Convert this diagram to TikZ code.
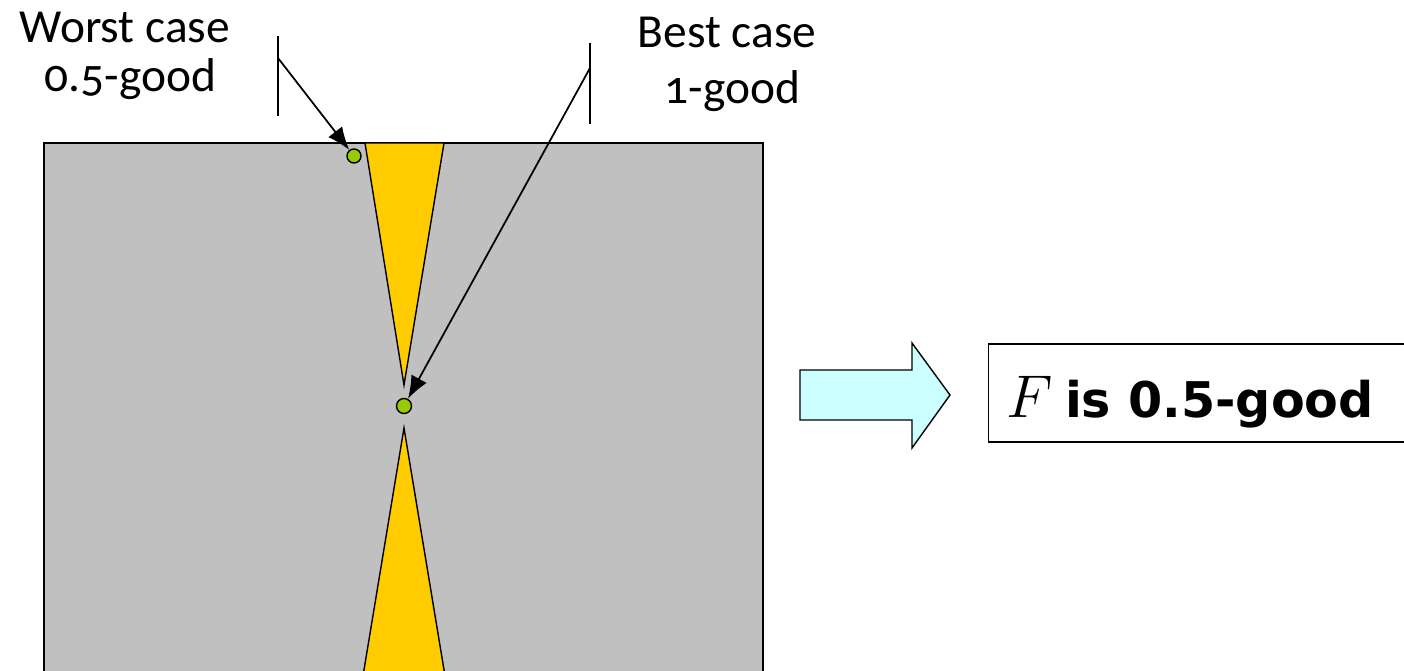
\documentclass[tikz,border=0pt]{standalone}
\usepackage{fontspec}
\setmainfont{Carlito}[Numbers=OldStyle]
\newfontfamily\boxfont{DejaVu Sans}
\usetikzlibrary{arrows.meta,positioning}

\definecolor{regiongray}{RGB}{192,192,192}
\definecolor{wedgeyellow}{RGB}{255,204,0}
\definecolor{dotgreen}{RGB}{153,204,0}
\definecolor{arrowcyan}{RGB}{204,255,255}

\begin{document}
\begin{tikzpicture}[
  x=0.02cm, y=-0.02cm,
  region/.style={draw=black, line width=0.8pt, fill=regiongray},
  wedge/.style={draw=black, line width=0.8pt, fill=wedgeyellow},
  dot/.style={circle, draw=black, line width=0.8pt, fill=dotgreen,
              inner sep=0pt},
  lbl/.style={font=\fontsize{27}{28}\selectfont, align=center, inner sep=0pt},
  tick/.style={line width=1pt},
  ptr/.style={-{Latex[length=13pt,width=10pt]}, line width=1pt},
  result/.style={draw=black, line width=0.8pt, inner sep=0pt,
                 minimum height=98*0.02cm, anchor=west}
]
\useasboundingbox (0,0) rectangle (1404,670);
\clip (0,0) rectangle (1404,670);

% region with the two wedges
\draw[region] (44,143) rectangle (763,700);
\draw[wedge] (365,143) -- (444,143) -- (404,385) -- cycle;
\draw[wedge] (404,428) -- (449,700) -- (359,700) -- cycle;

% points
\node[dot, minimum size=0.28cm] (worstpt) at (354,156) {};
\node[dot, minimum size=0.30cm] (bestpt) at (404,406) {};

% labels
\node[lbl] (worst) at (125,56) {Worst case\\ \ 0.5-good};
\node[lbl] (best) at (727,64) {Best case\\[0.14cm] \ 1-good};

% pointers
\coordinate (worsttop) at (278,36);
\coordinate (worstbot) at (278,116);
\coordinate (worstknee) at (278,58);
\coordinate (besttop) at (590,43);
\coordinate (bestbot) at (590,124);
\coordinate (bestknee) at (590,68);
\draw[tick] (worsttop) -- (worstbot);
\draw[tick] (besttop) -- (bestbot);
\draw[ptr] (worstknee) -- (worstpt);
\draw[ptr] (bestknee) -- (bestpt);

% implication
\draw[line width=0.8pt, fill=arrowcyan] (800,370) -- (912,370) -- (912,343)
  -- (950,395) -- (912,448) -- (912,420) -- (800,420) -- cycle;
\node[result, minimum width=470*0.02cm] (verdict) at (988,393) {};
\node[font=\boxfont\bfseries\fontsize{28}{30}\selectfont, anchor=base west,
      inner sep=0pt] (verdicttext) at (1006,417)
      {\scalebox{1.38}{$F$}\hspace{0.25em}is 0.5-good};
\end{tikzpicture}
\end{document}
